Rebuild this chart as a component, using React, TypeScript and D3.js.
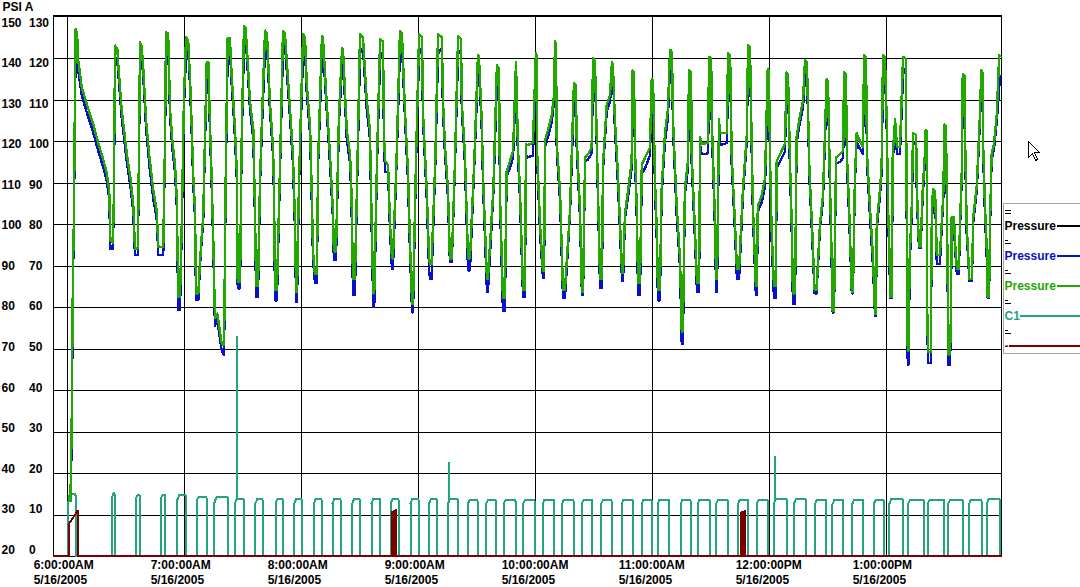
import React from 'react';
import * as d3 from 'd3';

// ---------------- DATA ----------------
// minutes after 6:00:00 AM, 5/16/2005
const pressureMinutes = [
  1.4, 2.0, 2.7, 3.2, 3.7, 4.1, 4.8, 5.4, 7.2, 9.7, 13.1, 15.7, 18.3, 20.0, 21.3, 21.9, 23.2,
  23.6, 24.3, 25.5, 26.0, 27.7, 30.3, 32.3, 33.6, 34.5, 36.0,
  36.6, 37.1, 37.9, 38.8, 40.2, 41.9, 43.9, 45.6, 46.5, 49.0,
  49.9, 50.4, 51.2, 51.6, 52.5, 53.8, 55.0, 55.9, 56.7, 57.6,
  58.5, 59.6, 60.7, 61.8, 62.7, 63.6, 64.4, 65.3, 65.8, 67.0,
  67.8, 68.7, 69.5, 70.4, 71.3, 72.1, 73.0, 73.8, 74.7, 75.5, 76.7, 77.7, 79.0, 80.2,
  81.0, 82.0, 83.2, 84.1, 84.9, 85.8, 86.7, 87.2, 88.4,
  89.2, 90.4, 91.2, 91.8, 93.5, 95.2, 96.1, 96.6, 97.6,
  98.6, 99.6, 101.2, 102.2, 103.7, 105.3, 105.8, 106.3, 107.3,
  108.9, 110.4, 111.4, 114.0, 115.5, 116.6, 117.1, 117.6,
  118.6, 120.7, 121.7, 122.6, 124.3, 125.1, 125.8, 126.8, 127.8,
  128.4, 130.4, 130.9, 132.8, 134.5, 136.0, 136.5, 137.6,
  139.1, 140.7, 141.2, 143.1, 144.8, 145.5, 146.3, 147.3,
  148.4, 149.9, 151.4, 153.3, 155.0, 155.9, 156.7, 157.2,
  158.6, 160.2, 161.7, 162.2, 162.8, 164.3, 165.3, 166.3, 166.8,
  168.6, 170.4, 171.4, 173.0, 174.5, 175.5, 176.6, 177.1,
  178.6, 180.2, 181.7, 182.2, 184.1, 185.3, 185.8, 186.6,
  188.5, 189.9, 191.9, 192.4, 193.5, 195.0, 196.0, 197.0,
  198.6, 200.2, 201.7, 202.1, 203.7, 205.3, 206.3,
  208.5, 210.4, 210.9, 212.3, 213.1, 215.0, 215.5,
  218.3, 220.1, 221.2, 221.7, 223.2, 224.2,
  225.1, 226.8, 228.4, 229.9, 230.9, 231.9, 233.5, 234.5,
  235.0, 235.5, 238.6, 240.1, 240.7, 240.8, 242.2, 243.7, 244.3,
  244.8, 246.3, 248.2, 249.4, 249.9, 250.4, 250.8, 252.5, 254.0, 255.0,
  257.6, 259.6, 260.6, 261.0, 262.7, 263.7, 264.3,
  265.3, 266.8, 268.7, 269.4, 270.4, 271.3, 271.9, 273.0, 274.0,
  274.5, 276.4, 278.1, 279.1, 279.6, 280.6, 282.2, 284.3, 284.8,
  285.8, 287.5, 289.2, 289.7, 290.4, 290.9, 291.8, 292.5, 293.5,
  294.4, 296.1, 298.6, 299.5, 300.2, 301.2, 302.1, 302.7, 303.7,
  304.6, 306.3, 307.8, 308.9, 309.9, 310.4, 312.3, 314.0, 314.9, 315.5,
  316.5, 318.1, 318.6, 319.7, 320.0, 321.7, 322.7, 323.8,
  324.3, 325.1, 328.4, 328.9, 330.0, 330.3, 332.0, 332.5, 333.0,
  334.0, 334.5, 338.1, 338.6, 339.7, 340.5, 342.2, 343.2, 344.3,
  346.3, 348.2, 348.9, 349.9, 350.8, 351.4, 352.9, 353.4,
  353.9, 355.8, 357.6, 359.0, 359.6, 360.2, 361.0, 362.2, 363.1,
  363.6, 365.3, 367.8, 368.7, 369.4, 370.4, 371.3, 371.9, 373.0,
  373.8, 375.5, 377.1, 378.1, 379.1, 380.4, 381.9, 383.0, 384.0,
  385.8, 387.3, 388.4, 389.2, 389.9, 390.9, 391.8, 392.3, 393.0,
  394.0, 396.1, 397.7, 398.1, 399.1, 399.6, 400.7, 402.1, 402.7,
  403.7, 404.6, 405.3, 407.8, 408.4, 409.4, 409.9, 411.4, 413.0, 414.0, 414.5,
  414.9, 416.6, 417.4, 418.1, 419.1, 420.0, 420.7, 421.5, 421.7, 422.6,
  423.1, 424.3, 425.3, 426.8, 428.4, 429.8, 430.3, 430.6, 430.8, 431.2,
  431.8, 432.8, 433.5, 435.1, 435.4, 436.1, 436.6, 437.4,
  438.5, 439.6, 440.0, 440.5, 440.8, 441.2, 442.6,
  443.1, 443.7, 444.3, 444.8, 445.3, 445.6, 445.8, 447.3,
  448.2, 449.0, 449.7, 450.4, 450.8, 451.3, 451.6, 452.5,
  453.0, 453.3, 454.5, 455.0, 455.9, 456.1, 457.0,
  457.6, 458.5, 459.0, 460.0, 460.2, 461.0, 462.4, 463.7,
  464.4, 466.2, 467.8, 468.5, 469.2, 469.5, 470.4, 471.3, 471.8, 472.5,
  473.0, 473.8, 475.0, 476.4, 477.7, 478.4,
];

const pressureGreen = [
  13, 30, 69, 82, 110, 127, 126, 119.5, 113, 109, 104, 99.5, 95.4, 92.3, 88.2, 76, 75.5,
  85, 123, 122, 117.9, 107.5, 97, 90.6, 85, 74.1, 74.1,
  100, 123.8, 123, 117.1, 105, 96.2, 88.2, 83.4, 74.5, 74.5,
  100, 126.3, 126, 124.3, 107.5, 99.4, 94.6, 86.6, 62.5, 62.5,
  80, 110, 125, 124, 115.5, 103.5, 91.4, 83.4, 63.3, 63.3,
  70.6, 77, 81.8, 101, 119.1, 119.1, 103.5, 91.4, 75.3, 57.3, 58.4, 55.3, 51.2, 50.8,
  90, 124.7, 124.7, 115.5, 110, 102.7, 93, 66.1, 66.1,
  100, 127.7, 127.4, 123.2, 109.4, 102.7, 81.7, 65, 65,
  90, 105, 126.6, 126, 109.4, 98.5, 88.5, 64.1, 64.1,
  94.3, 126.6, 126, 107.7, 96.8, 80.1, 63.7, 63.7,
  90, 125.7, 125, 113.6, 103.5, 88.5, 73.4, 67.9, 67.9,
  95, 125.3, 125, 109.4, 96.8, 83.4, 73.4, 73.4,
  106.1, 122.4, 122, 102.7, 96.8, 88, 66.7, 66.7,
  90, 125.7, 125, 110.2, 102.7, 80.1, 63.3, 63.3,
  95, 124.5, 124, 101, 95.2, 94.2, 80.1, 71.7, 71.7,
  95, 126.6, 126, 106.9, 92.6, 75.9, 60.8, 60.8,
  95, 125.7, 125, 106.9, 88.5, 72, 70.4, 70.4,
  95, 125.7, 125, 110.2, 98.5, 88.5, 71.7, 71.7,
  95, 125.3, 124.5, 109.4, 96.8, 71.7, 71.7,
  95, 120.7, 120.3, 105.2, 90.1, 66.7, 66.7,
  88.5, 118.2, 117.5, 86.8, 62.1, 62.1,
  92.6, 95.2, 97.7, 119, 98.5, 88.5, 64.1, 64.1,
  99.3, 99, 99.5, 121.1, 120.7, 96.8, 80.1, 68.8, 68.8,
  100.2, 102.7, 106.1, 111.1, 124.1, 123.5, 99.3, 87.6, 64.1, 64.1,
  83.4, 114, 113.5, 101, 83.4, 63.7, 63.7,
  96, 96.8, 98.5, 119.9, 119.3, 101, 88.5, 66.7, 66.7,
  94.3, 108.6, 111.1, 119, 118.5, 105.2, 91.8, 68.3, 68.3,
  82.6, 88.5, 95.2, 117, 116.5, 98.5, 84.3, 65.8, 65.8,
  94.3, 96, 98.5, 114.9, 114.5, 90.1, 78.4, 64.1, 64.1,
  88.5, 101.9, 107.7, 122, 121.5, 105.2, 84.3, 71.7, 54.1, 54.1,
  88.5, 95.2, 117, 116.5, 96.8, 78.4, 65.8, 65.8,
  101, 99.3, 99.5, 120.3, 119.8, 105.2, 80.1, 66.7, 66.7,
  105.2, 101.9, 102, 121.1, 120.6, 96.8, 80.1, 69.2, 69.2,
  88.5, 101, 123.2, 122.7, 98.5, 84.3, 65, 65,
  84.3, 86.8, 91, 117.4, 117, 95.2, 78.4, 65, 65,
  95.2, 96.8, 99.3, 116.5, 116, 95.2, 80.1, 63.3, 63.3,
  101, 106.1, 109.8, 119.5, 119, 92.6, 77.6, 64.1, 64.1,
  80.1, 86.8, 102.7, 114.9, 114.5, 90.1, 71.7, 59.1, 59.1,
  96, 96.8, 97.7, 116.5, 116, 96.8, 84.3, 63.7, 63.7,
  91, 101.9, 101, 98.5, 120.7, 120.2, 96.8, 84.3, 71.7, 58.3, 58.3,
  80.1, 88.5, 94.3, 120.7, 120.2, 105.2, 84.3, 71.7, 62.5, 62.5,
  96.8, 105.2, 98.5, 98.5, 120.3, 119.8, 80.1, 60.8, 49.5, 49.5,
  71.7, 83.4, 101.9, 101.5, 90.1, 80.1, 74.6, 74.6,
  88.5, 96.8, 102.7, 102.3, 59.1, 49.1, 49.1,
  80.1, 88.5, 88, 88, 80.1, 73.4, 72.5, 72.5,
  80.1, 86.8, 104, 103.5, 88.5, 65, 48.6, 48.6,
  60, 81.7, 81.7, 75.9, 70, 69.2, 69.2,
  80.1, 92.6, 116.1, 115.6, 101, 80.1, 66.7, 66.7,
  81.7, 89.3, 106.1, 117, 116.5, 98.5, 84.3, 74.2, 62.5, 62.5,
  80.1, 96.8, 99.3, 106.1, 120.7, 120.2,
];

const pressureBlue = [
  13, 26, 67, 80, 108, 122, 121, 117, 111, 107, 102, 97.5, 93.5, 90.5, 86, 74, 74,
  84, 118, 120, 116, 105.5, 95, 88.5, 83, 72.5, 72.5,
  99, 119, 121, 115, 103, 94, 86, 81.5, 72.5, 72.5,
  99, 121, 123, 122, 105.5, 97.5, 92.5, 84.5, 59.3, 59.3,
  79, 108, 121, 122, 113.5, 101.5, 89.5, 81.5, 61.7, 61.7,
  69.5, 76, 80.5, 99.5, 115, 117, 101.5, 89.5, 73.5, 55.5, 57, 53.5, 49.5, 48.4,
  89, 120, 122, 113.5, 108, 100.5, 91, 64.5, 64.5,
  99, 123, 124, 121, 107.5, 100.5, 79.5, 62.5, 62.5,
  89, 103, 122, 123.5, 107.5, 96.5, 86.5, 61.6, 61.6,
  93, 122, 123.5, 105.5, 94.5, 78, 61.2, 61.2,
  89, 121, 122.5, 111.5, 101.5, 86.5, 71.5, 65.8, 65.8,
  94, 121, 122.5, 107.5, 94.5, 81.5, 71.3, 71.3,
  104.5, 118, 120, 100.5, 94.5, 86, 62.9, 62.9,
  89, 121, 122.5, 108, 100.5, 78, 60, 60,
  94, 120, 121.5, 99, 92.6, 92.6, 78, 69.2, 69.2,
  94, 122, 123.5, 105, 90.5, 73.5, 58.7, 58.7,
  94, 121, 122.5, 105, 86.5, 69, 66.7, 66.7,
  94, 121, 122.5, 108, 96.5, 86.5, 70.9, 70.9,
  94, 121, 122, 107.5, 94.5, 68.8, 68.8,
  94, 117, 118, 103, 88, 63.7, 63.7,
  87.5, 114, 115, 85, 59.1, 59.1,
  91.5, 93.5, 96, 115, 96.5, 86.5, 62.5, 62.5,
  97, 96, 96.5, 117, 118.5, 95, 78, 67.1, 67.1,
  98.5, 101, 104.5, 109.5, 119, 121, 97.5, 85.5, 62.1, 62.1,
  82.5, 110, 111.5, 99, 81.5, 62.9, 62.9,
  95, 95.5, 97, 116, 117, 99, 86.5, 64.6, 64.6,
  93, 107, 109.5, 115, 116.5, 103, 89.5, 66.2, 66.2,
  81.5, 87, 93.5, 113, 114.5, 96.5, 82, 62.9, 62.9,
  92, 93.5, 96.5, 111, 112.5, 88, 76, 61.6, 61.6,
  87, 100, 105.5, 118, 119.5, 103, 82, 69.5, 51.1, 51.1,
  87, 93.5, 113, 114.5, 94.5, 76, 63.7, 63.7,
  99, 96.8, 97, 116, 118, 103, 78, 63.7, 63.7,
  103, 99, 99.5, 117, 118.5, 94.5, 78, 66.7, 66.7,
  87, 99.5, 119, 120.5, 96.5, 82, 62.9, 62.9,
  83, 85, 89, 113, 115, 93, 76, 62.1, 62.1,
  93.5, 95, 97.5, 112.5, 114, 93, 78, 60.8, 60.8,
  99.5, 104.5, 108, 115.5, 117, 90.5, 75.5, 63.3, 63.3,
  79, 85.5, 101, 111, 112.5, 88, 69.5, 58.7, 58.7,
  94.5, 95, 96, 112.5, 114, 94.5, 82, 63.3, 63.3,
  90, 100, 99, 96.8, 116.5, 118, 94.5, 82, 69.5, 57.9, 57.9,
  79, 87, 92.5, 116.5, 118, 103, 82, 69.5, 62.1, 62.1,
  95, 103.5, 96.8, 96.8, 116, 117.5, 78, 58, 46.1, 46.1,
  70, 82, 99, 100, 88.5, 78.5, 74.2, 74.2,
  87, 95, 100, 101, 57, 46.5, 46.5,
  79, 86, 86.5, 86.5, 78.5, 71.5, 70.4, 70.4,
  79, 85.5, 101, 102, 86.5, 63, 46.1, 46.1,
  59, 80.5, 80.5, 74.5, 68.5, 67.9, 67.9,
  79, 91, 112, 113.5, 99, 78, 66.2, 66.2,
  80.5, 88, 104.5, 113, 114.5, 96.5, 82, 72, 62.1, 62.1,
  79, 95.5, 98, 104.5, 113, 116,
];

// C1 pulses (minutes after 6:00 AM)
const c1Start = [
  0, 22.6, 35.0, 47.8, 56.2, 66.2, 75.2, 85.8, 96.3, 106.6, 116.2, 126.2, 135.8, 145.9, 155.8, 165.6,
  175.8, 185.3, 195.0, 205.3, 214.6, 223.5, 233.5, 243.5, 253.5, 263.5, 273.5, 284.0, 294.3, 302.5,
  314.3, 323.0, 332.5, 343.7, 353.3, 362.1, 372.4, 383.2, 392.2, 402.3, 413.4, 421.3, 431.0, 441.0,
  451.5, 462.2, 471.3,
];
const c1End = [
  4.1, 24.3, 37.1, 50.1, 60.7, 71.3, 82.4, 90.4, 100.0, 110.4, 120.3, 130.3, 140.0, 150.0, 160.4, 169.8,
  180.0, 189.5, 200.2, 210.2, 219.7, 229.7, 239.5, 249.5, 259.5, 269.1, 279.1, 289.8, 299.6, 308.5,
  319.4, 329.3, 338.8, 349.1, 359.2, 369.0, 378.7, 389.1, 397.7, 408.1, 418.7, 428.4, 439.0, 449.6,
  459.0, 468.7, 478.3,
];
const c1RiseLevel = [
  11.9, 14, 14, 14, 13.5, 13.3, 12.8, 12.8, 12.7, 12.7, 12.7, 12.6, 12.6, 12.6, 12.6, 12.6,
  12.6, 12.6, 12.6, 12.6, 12.6, 12.5, 12.5, 12.5, 12.5, 12.5, 12.5, 12.5, 12.5, 12.5,
  12.5, 12.5, 12.5, 12.5, 12.5, 12.5, 12.5, 12.5, 12.5, 12.5, 12.5, 12.5, 12.5, 12.5,
  12.5, 12.5, 12.5,
];
const c1PeakLevel = [
  14.9, 15.1, 14.7, 14.8, 14.7, 14.3, 14.1, 13.8, 13.8, 13.8, 13.8, 13.8, 13.8, 13.8, 13.8, 13.8,
  13.8, 13.8, 13.7, 13.6, 13.5, 13.5, 13.5, 13.6, 13.6, 13.5, 13.5, 13.6, 13.6, 13.6,
  13.6, 13.6, 13.5, 13.5, 13.6, 13.7, 13.7, 13.6, 13.6, 13.6, 13.6, 13.7, 13.6, 13.6,
  13.6, 13.6, 13.7,
];
const c1SpikeMinutes = [86.7, 195.7, 362.6];
const c1SpikeLevel = [53, 22.7, 24.1];

// dark red series
const redMinutes = [-7.5, 0.8, 0.8, 2.5, 4.9, 5.4, 5.4, 166.3, 166.3, 167.0, 167.0, 167.6, 167.6, 168.4, 168.4,
  345.5, 345.5, 346.2, 346.2, 346.8, 346.8, 347.5, 347.5, 479];
const redValues = [0, 0, 7.9, 9.0, 10.8, 10.8, 0, 0, 10.6, 10.8, 0, 0, 10.9, 11, 0,
  0, 10.5, 10.6, 0, 0, 10.7, 10.8, 0, 0];

const psiOuterTicks = [150, 140, 130, 120, 110, 100, 90, 80, 70, 60, 50, 40, 30, 20];
const psiInnerTicks = [130, 120, 110, 100, 90, 80, 70, 60, 50, 40, 30, 20, 10, 0];
const hourTicks = [0, 60, 120, 180, 240, 300, 360, 420];
const timeLabels = ['6:00:00AM', '7:00:00AM', '8:00:00AM', '9:00:00AM', '10:00:00AM', '11:00:00AM', '12:00:00PM', '1:00:00PM'];
const dateLabel = '5/16/2005';
const legendLabels = ['Pressure', 'Pressure', 'Pressure', 'C1', '-'];

const BLUE = '#0a10c8';
const GREEN = '#22a800';
const TEAL = '#22a47e';
const MAROON = '#7d0000';
const legendColors = ['#000000', BLUE, GREEN, TEAL, MAROON];
const FONT = '"Liberation Sans", Arial, Helvetica, sans-serif';

export default function App() {
  const x = d3.scaleLinear().domain([0, 420]).range([67.7, 886.7]);
  const y = d3.scaleLinear().domain([0, 130]).range([556, 16.5]);
  const yLabel = d3.scaleLinear().domain([130, 0]).range([26.7, 553.7]);
  const L = 53.5, R = 1001.5, T = 16, B = 556;

  const line = d3.line<[number, number]>().x(d => x(d[0])).y(d => y(d[1]));
  const zip = (ts: number[], vs: number[]) => ts.map((t, i) => [t, vs[i]] as [number, number]);

  const greenPath = line(zip(pressureMinutes, pressureGreen)) || '';
  const bluePath = line(zip(pressureMinutes, pressureBlue)) || '';
  const redPath = line(zip(redMinutes, redValues)) || '';

  const c1Pts: [number, number][] = [[-7.5, 0]];
  c1Start.forEach((s, i) => {
    const e = c1End[i];
    const rise = c1RiseLevel[i];
    const peak = c1PeakLevel[i];
    const k = Math.min(1.0, (e - s) / 2);
    const pts: [number, number][] = [[s, 0], [s, rise], [s + k, peak], [e - 0.4, peak], [e, peak - 0.4], [e, 0]];
    c1SpikeMinutes.forEach((m, j) => {
      if (m > s && m < e) {
        const lvl = m < s + k ? rise + (peak - rise) * (m - s) / k : peak;
        pts.push([m, lvl], [m + 0.01, c1SpikeLevel[j]], [m + 0.05, lvl]);
      }
    });
    pts.sort((a, b) => a[0] - b[0]);
    c1Pts.push(...pts);
  });
  c1Pts.push([479, 0]);
  const c1Path = line(c1Pts) || '';

  const gridVals = psiInnerTicks.filter(v => v > 0 && v < 130);
  const px = (v: number) => Math.round(v) + 0.5;

  const legendBase = 229.5;
  const legendStep = 30;
  const legendLineStart = [1057, 1057, 1057, 1019.5, 1009];

  return (
    <div style={{ position: 'absolute', left: 0, top: 0, width: 1080, height: 587, background: '#fff' }}>
      <svg width={1080} height={587} style={{ display: 'block' }} fontFamily={FONT}>
        <rect x={0} y={0} width={1080} height={587} fill="#ffffff" />
        {/* grid */}
        <g stroke="#000" strokeWidth={1} shapeRendering="crispEdges">
          {gridVals.map(v => (
            <line key={'h' + v} x1={L} x2={R} y1={px(y(v))} y2={px(y(v))} />
          ))}
          {hourTicks.map(h => (
            <line key={'v' + h} x1={Math.floor(x(h)) + 0.5} x2={Math.floor(x(h)) + 0.5} y1={T} y2={B} />
          ))}
          <line x1={L} x2={L} y1={T} y2={B} />
          <line x1={R} x2={R} y1={T} y2={B} />
          <line x1={L} x2={R} y1={B + 0.5} y2={B + 0.5} />
        </g>
        <rect x={L - 0.5} y={15} width={R - L + 1} height={2} fill="#000" shapeRendering="crispEdges" />

        {/* series */}
        <g fill="none" shapeRendering="crispEdges">
          <path d={c1Path} stroke={TEAL} strokeWidth={2} strokeLinejoin="miter" />
          <path d={bluePath} stroke={BLUE} strokeWidth={2.4} strokeLinejoin="round" />
          <path d={greenPath} stroke={GREEN} strokeWidth={2.4} strokeLinejoin="round" />
          <path d={redPath} stroke={MAROON} strokeWidth={2} strokeLinejoin="miter" />
        </g>

        {/* y axis labels */}
        <text x={2.5} y={11} fontSize={12} fontWeight="bold" fill="#000">PSI A</text>
        {psiOuterTicks.map((v, i) => (
          <text key={'o' + v} x={1.5} y={yLabel(psiInnerTicks[i])} fontSize={12} fontWeight="bold" fill="#000">{v}</text>
        ))}
        {psiInnerTicks.map(v => (
          <text key={'i' + v} x={29} y={yLabel(v)} fontSize={12} fontWeight="bold" fill="#000">{v}</text>
        ))}

        {/* x axis labels */}
        {hourTicks.map((h, i) => (
          <g key={'t' + h}>
            <text x={x(h) - 34} y={568.5} fontSize={12} fontWeight="bold" fill="#000">{timeLabels[i]}</text>
            <text x={x(h) - 34} y={583.5} fontSize={12} fontWeight="bold" fill="#000">{dateLabel}</text>
          </g>
        ))}

        {/* legend */}
        <rect x={1003.5} y={203.5} width={80} height={149.5} fill="#fff" stroke="#a3aaa3" strokeWidth={1} shapeRendering="crispEdges" />
        {legendLabels.map((lab, i) => {
          const by = legendBase + i * legendStep;
          const my = by - 20;
          return (
            <g key={'lg' + i}>
              <line x1={i === 0 ? 1004.5 : 1005} x2={i === 0 ? 1010.5 : 1007.5} y1={my + 0.5} y2={my + 0.5} stroke="#000" strokeWidth={1} shapeRendering="crispEdges" />
              <line x1={1004.5} x2={1010.5} y1={my + 3.5} y2={my + 3.5} stroke="#000" strokeWidth={1} shapeRendering="crispEdges" />
              <text x={1004.5} y={by} fontSize={12} fontWeight="bold" fill={legendColors[i]}>{lab}</text>
              <line x1={legendLineStart[i]} x2={1080} y1={by - 4} y2={by - 4} stroke={legendColors[i]} strokeWidth={2} shapeRendering="crispEdges" />
            </g>
          );
        })}

        {/* mouse cursor */}
        <path
          d="M1028.5,141.5 L1028.5,157.5 L1032.5,153.5 L1035.5,160.5 L1037.5,159.5 L1034.5,152.5 L1039.5,152.5 Z"
          fill="#fff" stroke="#000" strokeWidth={1} shapeRendering="crispEdges"
        />
      </svg>
    </div>
  );
}
